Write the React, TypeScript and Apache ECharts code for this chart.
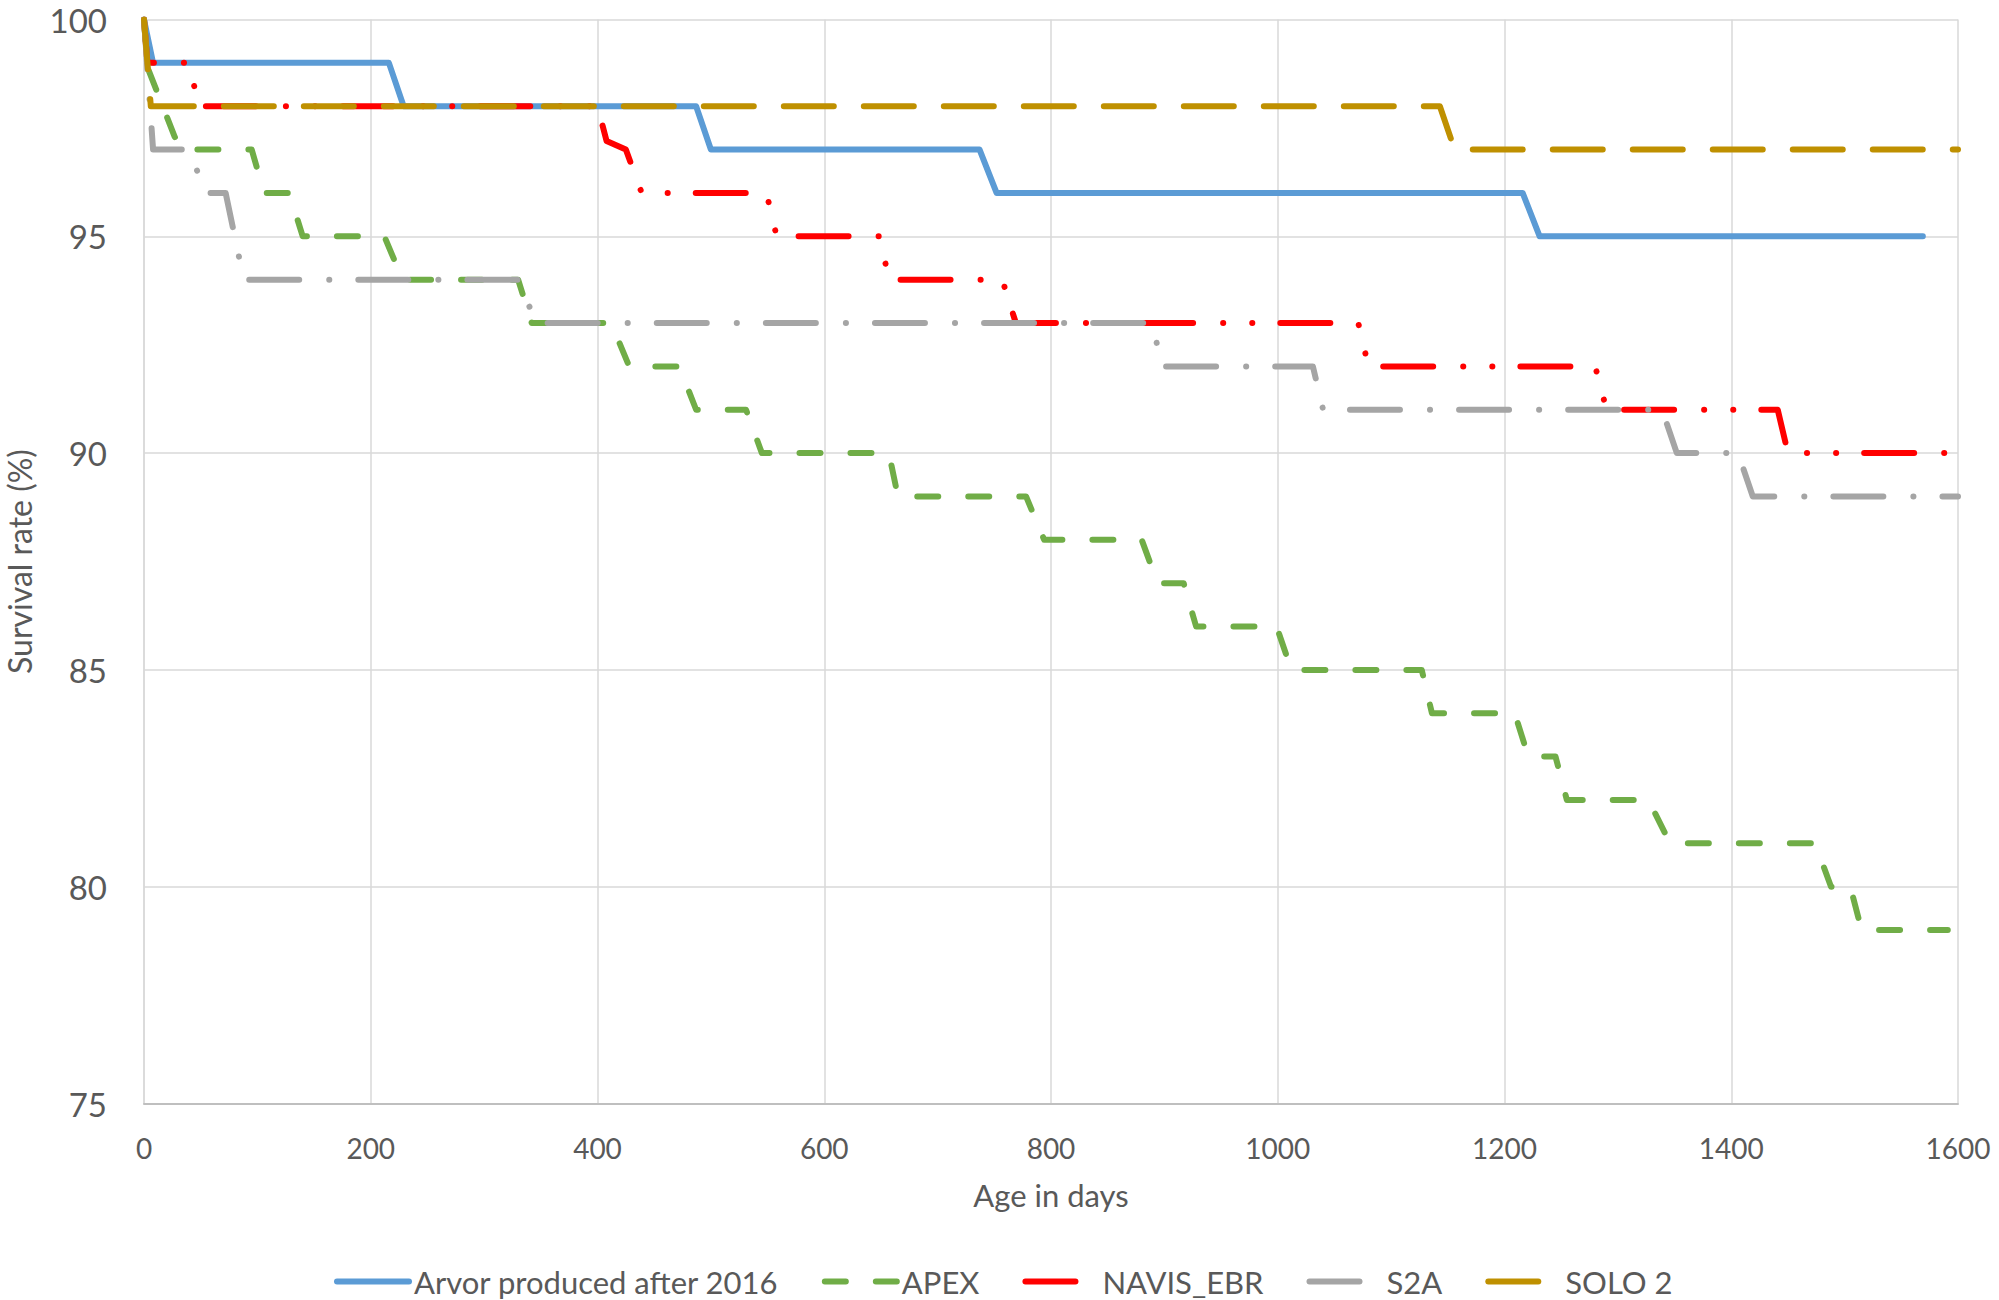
import React, { useEffect, useRef } from "react";
import * as echarts from "echarts";

const xTicks = [0, 200, 400, 600, 800, 1000, 1200, 1400, 1600];
const yTicks = [75, 80, 85, 90, 95, 100];

const seriesNames = ["Arvor produced after 2016", "APEX", "NAVIS_EBR", "S2A", "SOLO 2"];

const arvor: [number, number][] = [
  [0, 100], [8, 99], [216, 99], [229, 98], [487, 98], [500, 97], [737, 97], [752, 96],
  [1216, 96], [1231, 95], [1569, 95],
];

const apex: [number, number][] = [
  [0, 100], [3, 98.9], [27, 97.3], [33, 97], [95, 97], [106, 96], [128, 96], [140, 95],
  [212, 95], [228, 94], [330, 94], [342, 93], [412, 93], [428, 92], [472, 92], [487, 91],
  [531, 91], [545, 90], [657, 90], [665, 89], [778, 89], [794, 88], [880, 88], [894, 87],
  [917, 87], [928, 86], [999, 86], [1012, 85], [1127, 85], [1136, 84], [1209, 84], [1221, 83],
  [1245, 83], [1255, 82], [1327, 82], [1346, 81], [1474, 81], [1488, 80], [1505, 80], [1515, 79],
  [1591, 79],
];

const navis: [number, number][] = [
  [0, 100], [3, 99], [40, 99], [48, 98], [400, 98], [408, 97.2], [425, 97], [439, 96],
  [549, 96], [558, 95], [649, 95], [657, 94], [757, 94], [769, 93], [1071, 93], [1080, 92],
  [1280, 92], [1290, 91], [1441, 91], [1450, 90], [1590, 90],
];

const s2a: [number, number][] = [
  [0, 100], [8, 97], [40, 97], [54, 96], [72, 96], [88, 94], [330, 94], [346, 93],
  [890, 93], [897, 92], [1031, 92], [1040, 91], [1339, 91], [1352, 90], [1406, 90], [1419, 89],
  [1600, 89],
];

const solo2: [number, number][] = [
  [0, 100], [6, 98], [1143, 98], [1156, 97], [1600, 97],
];

const seriesData = [arvor, apex, navis, s2a, solo2];
const colors = ["#5B9BD5", "#70AD47", "#FF0000", "#A5A5A5", "#BF9000"];
const dashes: (string | number[])[] = [
  "solid",
  [21, 30],
  [50, 30, 0.1, 29, 0.1, 28],
  [50, 30, 0.1, 29],
  [50, 30],
];

const FONT = "Lato, 'Open Sans', sans-serif";

export default function App() {
  const ref = useRef<HTMLDivElement>(null);
  useEffect(() => {
    if (!ref.current) return;
    const chart = echarts.init(ref.current, undefined, { renderer: "svg" });
    chart.setOption({
      animation: false,
      backgroundColor: "#ffffff",
      textStyle: { fontFamily: FONT },
      grid: {
        left: 144,
        right: 41,
        top: 19.5,
        bottom: 196.5,
        containLabel: false,
        outerBoundsMode: "none",
      },
      legend: {
        data: seriesNames,
        left: 329,
        top: 1261,
        itemWidth: 72,
        itemHeight: 14,
        itemGap: 43,
        itemStyle: { opacity: 0 },
        lineStyle: { width: "inherit" },
        textStyle: { fontSize: 31, color: "#595959", fontFamily: FONT },
      },
      xAxis: {
        type: "value",
        min: xTicks[0],
        max: xTicks[xTicks.length - 1],
        interval: 200,
        name: "Age in days",
        nameLocation: "middle",
        nameGap: 76,
        nameTextStyle: { fontSize: 31, color: "#595959", fontFamily: FONT },
        axisLine: { show: true, lineStyle: { color: "#BFBFBF", width: 2 } },
        axisTick: { show: false },
        axisLabel: {
          fontSize: 28,
          color: "#595959",
          margin: 30,
          fontFamily: FONT,
          formatter: (v: number) => String(v),
        },
        splitLine: { show: true, lineStyle: { color: "#D9D9D9", width: 1.5 } },
      },
      yAxis: {
        type: "value",
        min: yTicks[0],
        max: yTicks[yTicks.length - 1],
        interval: 5,
        name: "Survival rate (%)",
        nameLocation: "middle",
        nameGap: 109,
        nameRotate: 90,
        nameTextStyle: { fontSize: 32, color: "#595959", fontFamily: FONT },
        axisLine: { show: true, lineStyle: { color: "#D9D9D9", width: 1.5 } },
        axisTick: { show: false },
        axisLabel: {
          fontSize: 33,
          color: "#595959",
          margin: 37,
          fontFamily: FONT,
          formatter: (v: number) => String(v),
        },
        splitLine: { show: true, lineStyle: { color: "#D9D9D9", width: 1.5 } },
      },
      series: seriesNames.map((name, i) => ({
        name,
        type: "line",
        data: seriesData[i],
        symbol: "none",
        color: colors[i],
        lineStyle: {
          color: colors[i],
          width: 6,
          type: dashes[i],
          cap: "round",
          join: "round",
        },
        z: 2 + i,
      })),
    });
    return () => chart.dispose();
  }, []);
  return (
    <div
      ref={ref}
      style={{ position: "absolute", left: 0, top: 0, width: 1999, height: 1300, background: "#fff" }}
    />
  );
}
